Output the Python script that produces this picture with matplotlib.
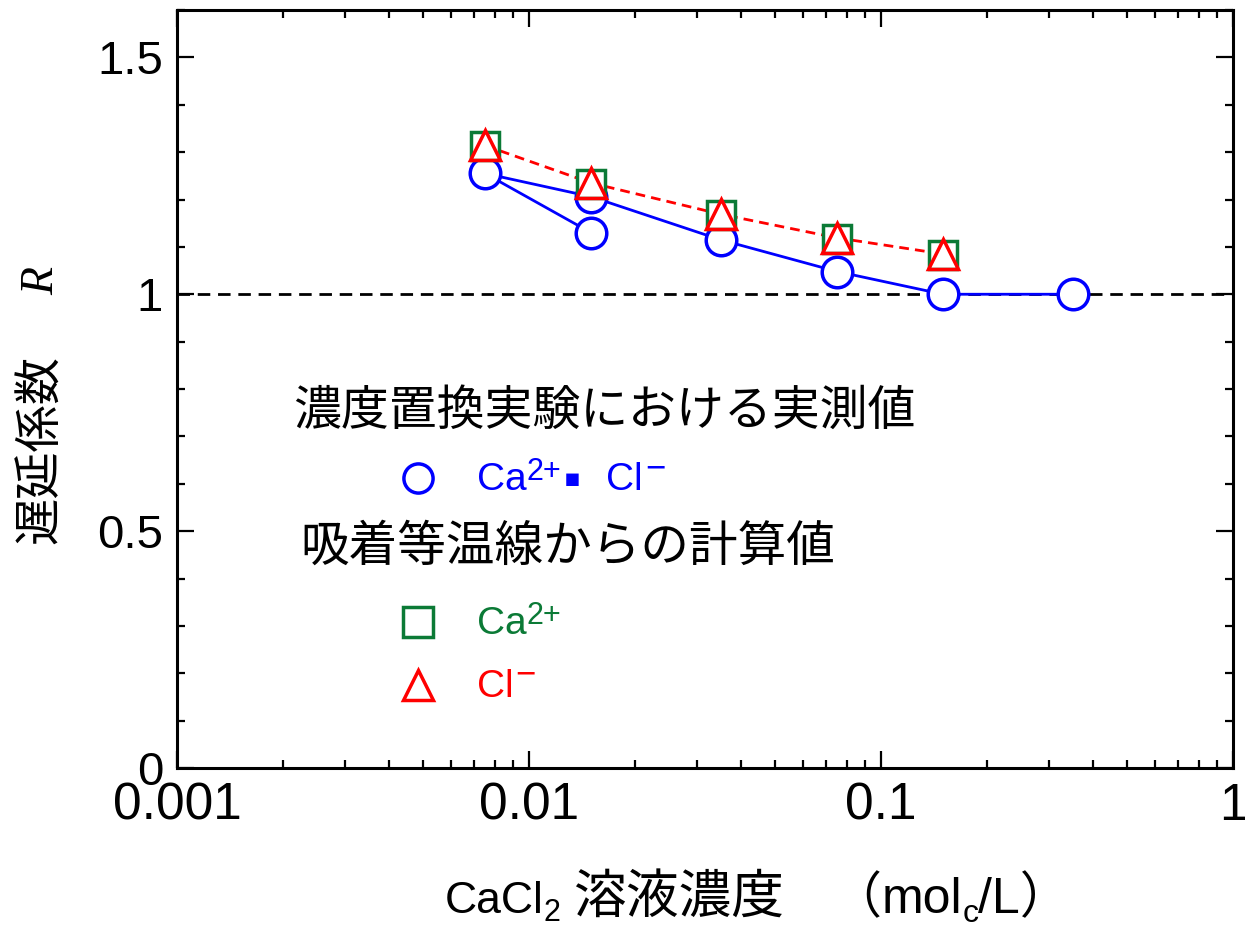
import matplotlib
matplotlib.use("Agg")
import matplotlib.pyplot as plt
from matplotlib.ticker import FixedLocator, MultipleLocator, LogLocator, NullFormatter

plt.rcParams['font.family'] = ['Liberation Sans', 'Noto Sans CJK JP', 'DejaVu Sans']

# ==================== DATA ====================
# measured (blue line runs lower 0.015 point -> 0.0075 -> upper 0.015 -> ...)
meas_conc = [0.015, 0.0075, 0.015, 0.035, 0.075, 0.15, 0.35]
meas_R = [1.13, 1.255, 1.206, 1.115, 1.048, 1.0, 1.0]

calc_conc = [0.0075, 0.015, 0.035, 0.075, 0.15]
calc_R_ca = [1.312, 1.233, 1.167, 1.117, 1.083]
calc_R_cl = [1.314, 1.235, 1.169, 1.119, 1.085]

x_ticks = [0.001, 0.01, 0.1, 1]
x_ticklabels = ["0.001", "0.01", "0.1", "1"]
y_ticks = [0, 0.5, 1, 1.5]
y_ticklabels = ["0", "0.5", "1", "1.5"]

BLUE = "#0000ff"
GREEN = "#0b7a36"
RED = "#ff0000"

W, H = 1245, 932
fig = plt.figure(figsize=(W / 100, H / 100), dpi=100)
renderer = fig.canvas.get_renderer()
ax = fig.add_axes([177 / W, 1 - 768 / H, (1233 - 177) / W, (768 - 10) / H])

ax.set_xscale("log")
ax.set_xlim(0.001, 1)
ax.set_ylim(0, 1.6)

# reference line R = 1
ax.axhline(1.0, color="black", lw=2.0, ls=(0, (4.5, 2.8)), zorder=1)

ax.plot(meas_conc, meas_R, color=BLUE, lw=2.0, zorder=2)
ax.plot(meas_conc, meas_R, ls="none", marker="o", ms=22, mfc="white",
        mec=BLUE, mew=2.5, zorder=3)

ax.plot(calc_conc, calc_R_cl, color=RED, lw=2.0, ls=(0, (3.5, 2.2)), zorder=4)
ax.plot(calc_conc, calc_R_ca, ls="none", marker="s", ms=20, mfc="white",
        mec=GREEN, mew=2.5, zorder=5)
ax.plot(calc_conc, calc_R_cl, ls="none", marker="^", ms=21, mfc="none",
        mec=RED, mew=2.5, zorder=6)

# ticks
ax.xaxis.set_major_locator(FixedLocator(x_ticks))
ax.set_xticklabels(x_ticklabels)
ax.xaxis.set_minor_locator(LogLocator(base=10, subs=range(2, 10)))
ax.xaxis.set_minor_formatter(NullFormatter())
ax.yaxis.set_major_locator(FixedLocator(y_ticks))
ax.set_yticklabels(y_ticklabels)
ax.yaxis.set_minor_locator(MultipleLocator(0.1))
ax.tick_params(which="both", direction="in", top=True, right=True, width=1.6)
ax.tick_params(which="major", length=12, pad=10)
ax.tick_params(axis="x", which="major", labelsize=37, pad=10)
ax.tick_params(axis="y", which="major", labelsize=34)
ax.tick_params(which="minor", length=6)
for s in ax.spines.values():
    s.set_linewidth(2.2)


def rich(x, y, pieces, color="black"):
    """draw text pieces one after another; x, y = left/baseline in pixels
    piece = (text, size, rise_px, gap_before_px, extra kwargs)"""
    for s, size, rise, gap, extra in pieces:
        x += gap
        kw = dict(fontsize=size, color=color, ha="left", va="baseline")
        kw.update(extra)
        t = fig.text(x / W, 1 - (y - rise) / H, s, **kw)
        x += t.get_window_extent(renderer).width


# axis labels
rich(445, 913, [("CaCl", 32, 0, 0, {}), ("2", 22, -8, 0, {}),
                ("溶液濃度", 38, 0, 12, {}), ("（", 36, 0, 48, {}),
                ("mol", 36, 0, 0, {}), ("c", 23, -9, 0, {}),
                ("/L）", 36, 0, 0, {})])
fig.text(42 / W, 1 - 450 / H, "遅延係数", rotation=90, ha="center",
         va="center", fontsize=34)
fig.text(42 / W, 1 - 281 / H, "R", rotation=90, ha="center", va="center",
         fontsize=33, family="Liberation Serif", style="italic")

# in-plot legend
fig.text(293 / W, 1 - 412 / H, "濃度置換実験における実測値", ha="left",
         va="center", fontsize=34.5)
fig.text(300 / W, 1 - 548 / H, "吸着等温線からの計算値", ha="left",
         va="center", fontsize=35)

leg_ax = fig.add_axes([0, 0, 1, 1], facecolor="none")
leg_ax.set_xlim(0, W)
leg_ax.set_ylim(H, 0)
leg_ax.axis("off")
leg_ax.plot([418], [478], marker="o", ms=21, mfc="white", mec=BLUE, mew=2.5)
leg_ax.plot([418], [622], marker="s", ms=21, mfc="white", mec=GREEN, mew=2.5)
leg_ax.plot([418], [685], marker="^", ms=22, mfc="white", mec=RED, mew=2.5)

sq = {"family": ["DejaVu Sans"]}
rich(477, 490, [("Ca", 28, 0, 0, {}), ("2+", 22, 10, 0, {}),
                ("▪", 18, 4, 2, sq), ("Cl", 28, 0, 26, {}),
                ("\u2212", 25, 12, 2, {})], color=BLUE)
rich(477, 634, [("Ca", 28, 0, 0, {}), ("2+", 22, 10, 0, {})], color=GREEN)
rich(477, 697, [("Cl", 28, 0, 0, {}), ("\u2212", 25, 12, 2, {})], color=RED)

fig.savefig("out.png", dpi=100)
